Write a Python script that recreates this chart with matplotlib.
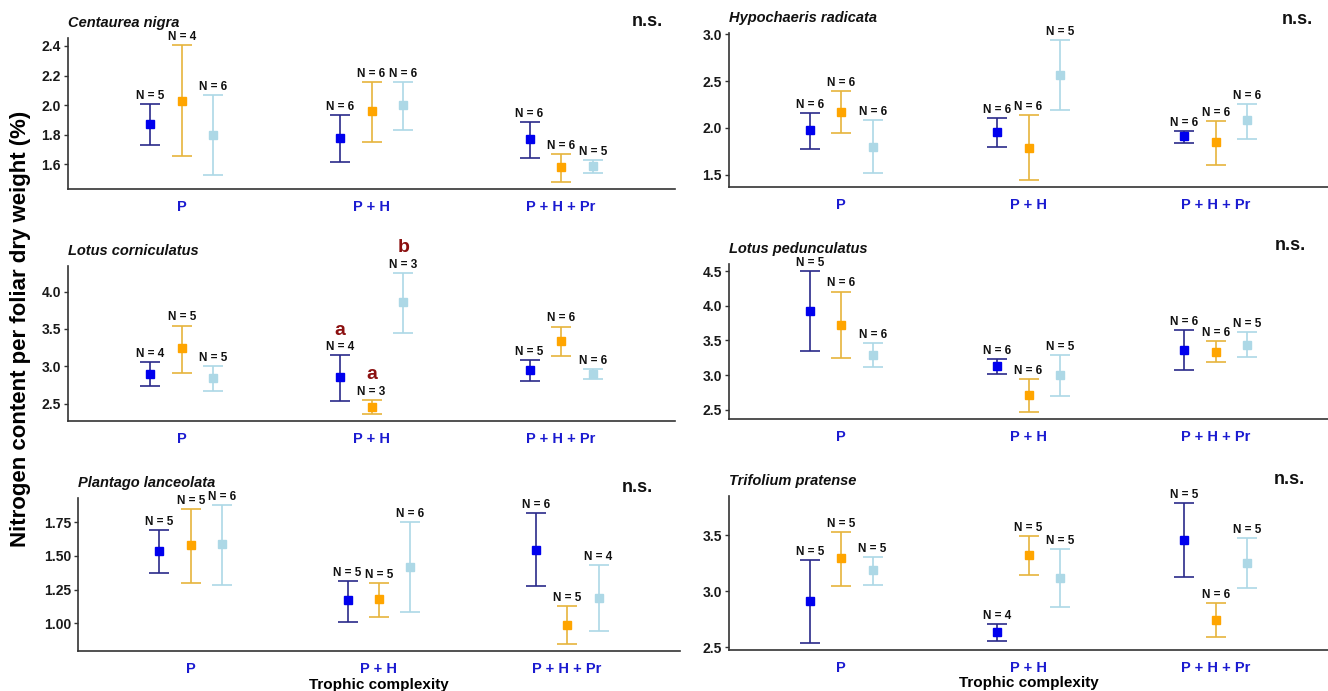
import matplotlib
matplotlib.use("Agg")
import matplotlib.pyplot as plt
import numpy as np

plt.rcParams['font.family'] = ['Liberation Sans', 'DejaVu Sans']

# ---- data -------------------------------------------------------------
treatments = ["P", "P + H", "P + H + Pr"]

# rows = treatment (P, P+H, P+H+Pr); cols = dark blue, orange, light blue
cn_mean = [[1.87, 2.03, 1.80], [1.78, 1.96, 2.00], [1.77, 1.58, 1.59]]
cn_lo = [[1.73, 1.655, 1.527], [1.615, 1.754, 1.831], [1.642, 1.481, 1.541]]
cn_hi = [[2.01, 2.407, 2.07], [1.934, 2.158, 2.158], [1.888, 1.668, 1.629]]
cn_n = [[5, 4, 6], [6, 6, 6], [6, 6, 5]]

hr_mean = [[1.98, 2.17, 1.80], [1.96, 1.79, 2.57], [1.91, 1.85, 2.08]]
hr_lo = [[1.778, 1.946, 1.514], [1.80, 1.443, 2.188], [1.839, 1.60, 1.881]]
hr_hi = [[2.163, 2.394, 2.081], [2.109, 2.134, 2.939], [1.963, 2.07, 2.255]]
hr_n = [[6, 6, 6], [6, 6, 5], [6, 6, 6]]

lc_mean = [[2.90, 3.24, 2.85], [2.855, 2.46, 3.86], [2.95, 3.34, 2.90]]
lc_lo = [[2.743, 2.913, 2.671], [2.541, 2.365, 3.452], [2.806, 3.138, 2.832]]
lc_hi = [[3.053, 3.546, 3.003], [3.147, 2.55, 4.247], [3.079, 3.533, 2.963]]
lc_n = [[4, 5, 5], [4, 3, 3], [5, 6, 6]]
lc_letters = [["", "", ""], ["a", "a", "b"], ["", "", ""]]

lp_mean = [[3.93, 3.73, 3.29], [3.13, 2.72, 3.01], [3.37, 3.34, 3.44]]
lp_lo = [[3.347, 3.251, 3.12], [3.018, 2.471, 2.703], [3.076, 3.188, 3.265]]
lp_hi = [[4.50, 4.205, 3.459], [3.231, 2.946, 3.289], [3.648, 3.493, 3.619]]
lp_n = [[5, 6, 6], [6, 6, 5], [6, 6, 5]]

pl_mean = [[1.535, 1.577, 1.586], [1.169, 1.178, 1.42], [1.545, 0.99, 1.19]]
pl_lo = [[1.374, 1.30, 1.286], [1.012, 1.049, 1.083], [1.274, 0.846, 0.946]]
pl_hi = [[1.689, 1.848, 1.877], [1.315, 1.30, 1.748], [1.814, 1.127, 1.43]]
pl_n = [[5, 5, 6], [5, 5, 6], [6, 5, 4]]

tp_mean = [[2.91, 3.295, 3.19], [2.63, 3.327, 3.12], [3.46, 2.744, 3.253]]
tp_lo = [[2.536, 3.042, 3.057], [2.554, 3.146, 2.86], [3.131, 2.586, 3.027]]
tp_hi = [[3.28, 3.533, 3.304], [2.702, 3.497, 3.375], [3.789, 2.893, 3.473]]
tp_n = [[5, 5, 5], [4, 5, 5], [5, 6, 5]]

cn_ticks = [1.6, 1.8, 2.0, 2.2, 2.4]
hr_ticks = [1.5, 2.0, 2.5, 3.0]
lc_ticks = [2.5, 3.0, 3.5, 4.0]
lp_ticks = [2.5, 3.0, 3.5, 4.0, 4.5]
pl_ticks = [1.00, 1.25, 1.50, 1.75]
tp_ticks = [2.5, 3.0, 3.5]

# ---- styling ----------------------------------------------------------
W, H = 1328, 691
bar_colors = ["#2a2a8a", "#e6b43c", "#add8e6"]
point_colors = ["#0000ee", "#ffa500", "#add8e6"]
dodge = [-0.167, 0.0, 0.167]
axis_col = "#333333"

fig = plt.figure(figsize=(W / 100, H / 100), dpi=100)


def px_rect(left, top, right, bottom):
    return [left / W, 1 - bottom / H, (right - left) / W, (bottom - top) / H]


def panel(rect, name, mean, lo, hi, nn, ticks, fmt, ns_pos=None, letters=None):
    ax = fig.add_axes(px_rect(*rect))
    mean = np.array(mean)
    lo = np.array(lo)
    hi = np.array(hi)
    for g in range(3):
        x = np.arange(1, 4) + dodge[g]
        m = mean[:, g]
        ax.errorbar(x, m, yerr=[m - lo[:, g], hi[:, g] - m], fmt='none',
                    ecolor=bar_colors[g], elinewidth=1.2, capsize=7, capthick=1.2,
                    zorder=2)
        ax.plot(x, m, 's', color=point_colors[g], markersize=5.5, zorder=3)
        for i in range(3):
            ax.annotate(f"N = {nn[i][g]}", (x[i], hi[i, g]), xytext=(0, 1.5),
                        textcoords='offset points', ha='center', va='bottom',
                        fontsize=8.5, fontweight='bold', color='#111111')
            if letters and letters[i][g]:
                ax.annotate(letters[i][g], (x[i], hi[i, g]), xytext=(0, 12),
                            textcoords='offset points', ha='center', va='bottom',
                            fontsize=14, fontweight='bold', color='#8b1010')
    span = hi.max() - lo.min()
    ax.set_ylim(lo.min() - 0.05 * span, hi.max() + 0.05 * span)
    ax.set_xlim(0.4, 3.6)
    ax.set_xticks([1, 2, 3])
    ax.set_xticklabels(treatments, fontsize=10.5, fontweight='bold', color='#1a1ad0')
    ax.set_yticks(ticks)
    ax.set_yticklabels([fmt.format(t) for t in ticks], fontsize=10, fontweight='bold',
                       color='#1a1a1a')
    ax.tick_params(axis='x', length=0, pad=8)
    ax.tick_params(axis='y', length=3, width=1, color=axis_col, pad=2)
    for s in ['top', 'right']:
        ax.spines[s].set_visible(False)
    for s in ['left', 'bottom']:
        ax.spines[s].set_color(axis_col)
        ax.spines[s].set_linewidth(1.2)
    ax.patch.set_alpha(0)
    ax.annotate(name, (0, 1), xycoords='axes fraction', xytext=(0, 11),
                textcoords='offset points', ha='left', va='center',
                fontsize=10.5, fontstyle='italic', fontweight='bold', color='#111111')
    if ns_pos:
        fig.text(ns_pos[0] / W, 1 - ns_pos[1] / H, "n.s.", ha='center', va='center',
                 fontsize=13, fontweight='bold', color='#111111')
    return ax


panel((68, 38, 675, 189), "Centaurea nigra", cn_mean, cn_lo, cn_hi, cn_n,
      cn_ticks, "{:.1f}", ns_pos=(647, 21))
panel((729, 33, 1328, 187), "Hypochaeris radicata", hr_mean, hr_lo, hr_hi, hr_n,
      hr_ticks, "{:.1f}", ns_pos=(1297, 20))
panel((68, 266, 675, 421), "Lotus corniculatus", lc_mean, lc_lo, lc_hi, lc_n,
      lc_ticks, "{:.1f}", letters=lc_letters)
panel((729, 264, 1328, 419), "Lotus pedunculatus", lp_mean, lp_lo, lp_hi, lp_n,
      lp_ticks, "{:.1f}", ns_pos=(1290, 245))
ax5 = panel((78, 498, 680, 651), "Plantago lanceolata", pl_mean, pl_lo, pl_hi, pl_n,
            pl_ticks, "{:.2f}", ns_pos=(637, 487))
ax6 = panel((729, 496, 1328, 650), "Trifolium pratense", tp_mean, tp_lo, tp_hi, tp_n,
            tp_ticks, "{:.1f}", ns_pos=(1289, 480))

for ax in (ax5, ax6):
    ax.set_xlabel("Trophic complexity", fontsize=11, fontweight='bold', labelpad=1)

fig.text(21 / W, 1 - 329 / H, "Nitrogen content per foliar dry weight (%)",
         rotation=90, ha='center', va='center', fontsize=16, fontweight='bold')

fig.savefig("out.png", dpi=100)
